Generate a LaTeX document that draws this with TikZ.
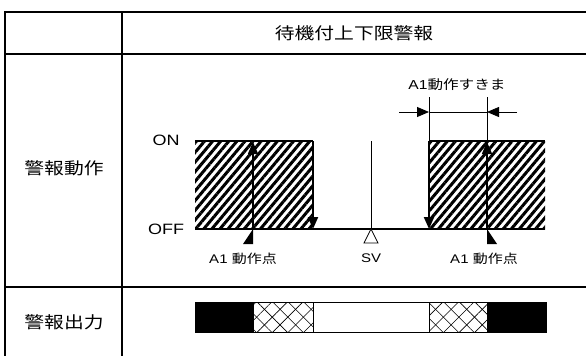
\documentclass[tikz,border=0pt]{standalone}
\usepackage{fontspec}
\setmainfont{Liberation Sans}[FakeStretch=1.2]
\newfontfamily\jp{Noto Sans CJK JP}[FakeStretch=1.2]
\usetikzlibrary{arrows.meta,patterns.meta}

\tikzstyle{rule}=[draw,line width=2pt]
\tikzstyle{level}=[draw,line width=2pt]
\tikzstyle{fine}=[draw,line width=0.8pt]
\tikzstyle{tip}=[-{Triangle[length=12pt,width=10pt]}]
\tikzstyle{hatch}=[pattern={Lines[angle=50,distance=6.2pt,line width=3pt]}]
\tikzstyle{xhatch}=[pattern={Lines[angle=45,distance=11pt,line width=0.6pt]}]
\tikzstyle{yhatch}=[pattern={Lines[angle=-45,distance=11pt,line width=0.6pt]}]
\tikzstyle{bigtext}=[inner sep=0pt,font=\fontsize{16.5}{18}\selectfont\jp]
\tikzstyle{midtext}=[inner sep=0pt,font=\fontsize{15}{17}\selectfont]
\tikzstyle{smalltext}=[inner sep=0pt,font=\fontsize{12.5}{14}\selectfont]

\begin{document}
\begin{tikzpicture}[x=1pt,y=-1pt]

\useasboundingbox (0,0) rectangle (586,356);

% table
\path[rule] (586,12) -- (5,12) -- (5,356);
\path[rule] (5,54) -- (586,54);
\path[rule] (5,287) -- (586,287);
\path[rule] (122,12) -- (122,356);

\node[bigtext] (title) at (354,33) {待機付上下限警報};
\node[bigtext] (act) at (64,168) {警報動作};
\node[bigtext] (out) at (64,322) {警報出力};

% alarm action
\fill[hatch] (195,141) rectangle (313,229);
\fill[hatch] (429,141) rectangle (545,229);

\coordinate (lo1) at (195,229);
\coordinate (lo2) at (545,229);
\coordinate (hiL1) at (195,141);
\coordinate (hiL2) at (313,141);
\coordinate (hiR1) at (429,141);
\coordinate (hiR2) at (545,141);
\path[level] (lo1) -- (lo2);
\path[level] (hiL1) -- (hiL2);
\path[level] (hiR1) -- (hiR2);

\node[midtext] (on) at (166,140) {ON};
\node[midtext] (off) at (166,229) {OFF};

\coordinate (offL) at (313,229);
\coordinate (offR) at (429,229);
\coordinate (ptL) at (253,229);
\coordinate (ptR) at (487,229);
\path[level,tip] (hiL2) -- (offL);
\path[level,tip] (hiR1) -- (offR);
\path[draw,line width=1.5pt,tip] (ptL) -- ++(0,-87);
\path[draw,line width=1.5pt,tip] (ptR) -- ++(0,-87);

\fill (ptL) -- ++(0,15) -- ++(-10,0) -- cycle;
\fill (ptR) -- ++(0,15) -- ++(10,0) -- cycle;

\node[smalltext] (setL) at (243,259) {A1 {\jp 動作点}};
\node[smalltext] (setR) at (484,259) {A1 {\jp 動作点}};

% set value
\coordinate (sv0) at (371,229);
\path[fine] (371,141) -- (sv0);
\draw[fill=white,line width=0.8pt] (sv0) -- ++(7,14) -- ++(-14,0) -- cycle;
\node[smalltext] (sv) at (371,258) {SV};

% differential
\coordinate (dA) at (429,112);
\coordinate (dB) at (487,112);
\path[fine] (hiR1) -- (429,97);
\path[fine] (ptR) ++(0,-88) -- (487,97);
\path[fine] (dA) -- (dB);
\path[fine,tip] (399,112) -- (dA);
\path[fine,tip] (517,112) -- (dB);
\node[smalltext,font=\fontsize{13}{15}\selectfont] (gap) at (457,85) {A1{\jp 動作すきま}};

% alarm output
\fill (195,302) rectangle (254,332);
\fill[xhatch] (254,302) rectangle (313,332);
\fill[yhatch] (254,302) rectangle (313,332);
\fill[xhatch] (429,302) rectangle (487,332);
\fill[yhatch] (429,302) rectangle (487,332);
\fill (487,302) rectangle (546,332);
\draw[line width=0.8pt] (195,302) rectangle (546,332);
\draw[line width=0.5pt] (313,302) -- (313,332);
\draw[line width=0.5pt] (429,302) -- (429,332);

\end{tikzpicture}
\end{document}
